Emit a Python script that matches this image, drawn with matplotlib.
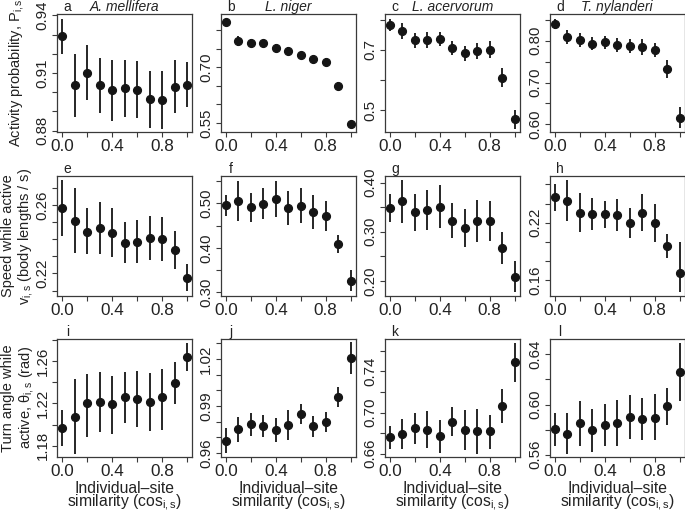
import matplotlib
matplotlib.use('Agg')
import matplotlib.pyplot as plt
from matplotlib.transforms import offset_copy

plt.rcParams['font.family'] = ['Liberation Sans', 'DejaVu Sans']
plt.rcParams['mathtext.fontset'] = 'custom'
plt.rcParams['mathtext.rm'] = 'Liberation Sans'
plt.rcParams['mathtext.it'] = 'Liberation Sans:italic'
plt.rcParams['mathtext.default'] = 'regular'

# ---------------- data ----------------
similarity = [0.0, 0.1, 0.2, 0.3, 0.4, 0.5, 0.6, 0.7, 0.8, 0.9, 1.0]
species = ['A. mellifera', 'L. niger', 'L. acervorum', 'T. nylanderi']
letters = ['a', 'b', 'c', 'd', 'e', 'f', 'g', 'h', 'i', 'j', 'k', 'l']

# Row 1: activity probability
a_mean = [0.9294, 0.9035, 0.9101, 0.9035, 0.9010, 0.9021, 0.9014, 0.8964, 0.8962, 0.9028, 0.9040]
a_lo = [0.9198, 0.8873, 0.8957, 0.8890, 0.8850, 0.8870, 0.8866, 0.8816, 0.8807, 0.8890, 0.8922]
a_hi = [0.9383, 0.9198, 0.9247, 0.9177, 0.9167, 0.9169, 0.9162, 0.9113, 0.9113, 0.9169, 0.9157]

b_mean = [0.821, 0.771, 0.765, 0.764, 0.751, 0.744, 0.733, 0.722, 0.715, 0.650, 0.547]
b_lo = [0.812, 0.758, 0.754, 0.756, 0.741, 0.733, 0.725, 0.714, 0.706, 0.640, 0.539]
b_hi = [0.830, 0.784, 0.776, 0.772, 0.761, 0.755, 0.741, 0.730, 0.724, 0.660, 0.555]

c_mean = [0.783, 0.763, 0.731, 0.732, 0.736, 0.706, 0.688, 0.697, 0.701, 0.608, 0.469]
c_lo = [0.763, 0.736, 0.706, 0.705, 0.712, 0.683, 0.662, 0.671, 0.672, 0.576, 0.437]
c_hi = [0.803, 0.790, 0.756, 0.759, 0.760, 0.729, 0.714, 0.723, 0.730, 0.640, 0.501]

d_mean = [0.840, 0.809, 0.802, 0.793, 0.796, 0.789, 0.787, 0.784, 0.777, 0.732, 0.616]
d_lo = [0.828, 0.793, 0.785, 0.777, 0.780, 0.772, 0.770, 0.765, 0.760, 0.711, 0.591]
d_hi = [0.852, 0.825, 0.819, 0.809, 0.812, 0.806, 0.804, 0.803, 0.794, 0.753, 0.641]

# Row 2: speed while active
e_mean = [0.2580, 0.2506, 0.2444, 0.2463, 0.2438, 0.2380, 0.2386, 0.2405, 0.2401, 0.2337, 0.2175]
e_lo = [0.2419, 0.2317, 0.2311, 0.2311, 0.2298, 0.2259, 0.2263, 0.2278, 0.2272, 0.2224, 0.2097]
e_hi = [0.2746, 0.2698, 0.2580, 0.2620, 0.2584, 0.2502, 0.2512, 0.2538, 0.2532, 0.2448, 0.2253]

f_mean = [0.4955, 0.5052, 0.4918, 0.4993, 0.5105, 0.4903, 0.4940, 0.4798, 0.4715, 0.4079, 0.3255]
f_lo = [0.4725, 0.4603, 0.4580, 0.4640, 0.4700, 0.4510, 0.4560, 0.4420, 0.4380, 0.3880, 0.3020]
f_hi = [0.5185, 0.5502, 0.5240, 0.5340, 0.5510, 0.5280, 0.5340, 0.5190, 0.5060, 0.4290, 0.3500]

g_mean = [0.3488, 0.3624, 0.3406, 0.3454, 0.3508, 0.3228, 0.3078, 0.3228, 0.3215, 0.2668, 0.2088]
g_lo = [0.3194, 0.3180, 0.3020, 0.3040, 0.3078, 0.2873, 0.2689, 0.2784, 0.2805, 0.2340, 0.1780]
g_hi = [0.3775, 0.4055, 0.3780, 0.3850, 0.3945, 0.3577, 0.3467, 0.3658, 0.3618, 0.3003, 0.2395]

h_mean = [0.2465, 0.2430, 0.2298, 0.2291, 0.2287, 0.2280, 0.2193, 0.2305, 0.2193, 0.1956, 0.1670]
h_lo = [0.2326, 0.2221, 0.2099, 0.2123, 0.2141, 0.2113, 0.2036, 0.2116, 0.2001, 0.1834, 0.1478]
h_hi = [0.2605, 0.2647, 0.2507, 0.2455, 0.2430, 0.2444, 0.2350, 0.2497, 0.2392, 0.2078, 0.2000]

# Row 3: turn angle while active
i_mean = [1.1972, 1.2074, 1.2209, 1.2216, 1.2194, 1.2257, 1.2244, 1.2216, 1.2257, 1.2390, 1.2642]
i_lo = [1.1796, 1.1726, 1.1884, 1.1931, 1.1916, 1.2017, 1.1979, 1.1941, 1.1953, 1.2191, 1.2510]
i_hi = [1.2143, 1.2431, 1.2478, 1.2500, 1.2459, 1.2494, 1.2510, 1.2491, 1.2522, 1.2595, 1.2769]

j_mean = [0.9677, 0.9752, 0.9783, 0.9773, 0.9747, 0.9779, 0.9849, 0.9773, 0.9800, 0.9957, 1.0203]
j_lo = [0.9599, 0.9669, 0.9709, 0.9701, 0.9669, 0.9684, 0.9783, 0.9705, 0.9737, 0.9896, 1.0101]
j_hi = [0.9762, 0.9832, 0.9858, 0.9843, 0.9826, 0.9875, 0.9911, 0.9836, 0.9860, 1.0019, 1.0305]

k_mean = [0.6763, 0.6789, 0.6851, 0.6835, 0.6770, 0.6909, 0.6828, 0.6822, 0.6819, 0.7065, 0.7486]
k_lo = [0.6644, 0.6644, 0.6692, 0.6660, 0.6611, 0.6770, 0.6640, 0.6601, 0.6650, 0.6900, 0.7292]
k_hi = [0.6867, 0.6935, 0.6997, 0.7013, 0.6925, 0.7049, 0.7023, 0.7039, 0.6974, 0.7233, 0.7677]

l_mean = [0.5803, 0.5768, 0.5853, 0.5794, 0.5834, 0.5856, 0.5901, 0.5888, 0.5896, 0.5987, 0.6262]
l_lo = [0.5666, 0.5608, 0.5666, 0.5621, 0.5666, 0.5666, 0.5728, 0.5720, 0.5720, 0.5840, 0.6029]
l_hi = [0.5936, 0.5936, 0.6027, 0.5968, 0.6003, 0.6035, 0.6075, 0.6053, 0.6080, 0.6134, 0.6494]

# y tick positions and labels ('' = unlabeled tick)
a_ticks = [0.88, 0.89, 0.90, 0.91, 0.92, 0.93, 0.94]
a_labels = ['0.88', '', '', '0.91', '', '', '0.94']
b_ticks = [0.55, 0.60, 0.65, 0.70, 0.75, 0.80]
b_labels = ['0.55', '', '', '0.70', '', '']
c_ticks = [0.5, 0.6, 0.7, 0.8]
c_labels = ['0.5', '', '0.7', '']
d_ticks = [0.60, 0.65, 0.70, 0.75, 0.80, 0.85]
d_labels = ['0.60', '', '0.70', '', '0.80', '']
e_ticks = [0.21, 0.22, 0.23, 0.24, 0.25, 0.26, 0.27]
e_labels = ['', '0.22', '', '', '', '0.26', '']
f_ticks = [0.30, 0.35, 0.40, 0.45, 0.50, 0.55]
f_labels = ['0.30', '', '0.40', '', '0.50', '']
g_ticks = [0.20, 0.25, 0.30, 0.35, 0.40]
g_labels = ['0.20', '', '0.30', '', '0.40']
h_ticks = [0.16, 0.18, 0.20, 0.22, 0.24, 0.26]
h_labels = ['0.16', '', '', '0.22', '', '']
i_ticks = [1.18, 1.20, 1.22, 1.24, 1.26, 1.28]
i_labels = ['1.18', '', '1.22', '', '1.26', '']
j_ticks = [0.96, 0.97, 0.98, 0.99, 1.00, 1.01, 1.02, 1.03]
j_labels = ['0.96', '', '', '0.99', '', '', '1.02', '']
k_ticks = [0.66, 0.68, 0.70, 0.72, 0.74, 0.76]
k_labels = ['0.66', '', '0.70', '', '0.74', '']
l_ticks = [0.56, 0.58, 0.60, 0.62, 0.64]
l_labels = ['0.56', '', '0.60', '', '0.64']

x_ticks = [0.0, 0.2, 0.4, 0.6, 0.8, 1.0]
x_labels = ['0.0', '', '0.4', '', '0.8', '']
x_axis_label = 'Individual\u2013site\nsimilarity (cos$_{i,s}$)'

ylims = [(0.8793, 0.9407), (0.526, 0.8426), (0.427, 0.819), (0.5816, 0.864),
         (0.2068, 0.2770), (0.2918, 0.5614), (0.1692, 0.4137), (0.1432, 0.2689),
         (1.1694, 1.281), (0.9576, 1.0326), (0.6569, 0.7713), (0.5581, 0.6523)]

panels = [
    (a_mean, a_lo, a_hi, a_ticks, a_labels),
    (b_mean, b_lo, b_hi, b_ticks, b_labels),
    (c_mean, c_lo, c_hi, c_ticks, c_labels),
    (d_mean, d_lo, d_hi, d_ticks, d_labels),
    (e_mean, e_lo, e_hi, e_ticks, e_labels),
    (f_mean, f_lo, f_hi, f_ticks, f_labels),
    (g_mean, g_lo, g_hi, g_ticks, g_labels),
    (h_mean, h_lo, h_hi, h_ticks, h_labels),
    (i_mean, i_lo, i_hi, i_ticks, i_labels),
    (j_mean, j_lo, j_hi, j_ticks, j_labels),
    (k_mean, k_lo, k_hi, k_ticks, k_labels),
    (l_mean, l_lo, l_hi, l_ticks, l_labels),
]

# ---------------- layout (pixels) ----------------
W, H = 685, 513
fig = plt.figure(figsize=(W / 100, H / 100), dpi=100)

col_left = [57.5, 221, 385, 550]
col_w = 134.5
row_top = [14, 176, 339]
row_bot = [132, 296, 457]

FS_X = 12.3     # x tick labels
FS_XL = 11.3    # x axis labels
FS_Y = 10.8     # rotated y tick labels
FS_YL = 10.5    # y axis labels
FS_T = 10.0     # titles and panel letters
dark = '#151515'
frame = '#3a3a3a'
txt = '#222222'

def fx(px):
    return px / W

def fy(py):
    return 1 - py / H

for idx, (m, lo, hi, yt, yl) in enumerate(panels):
    r, c = divmod(idx, 4)
    ax = fig.add_axes([fx(col_left[c]), fy(row_bot[r]), col_w / W,
                       (row_bot[r] - row_top[r]) / H])
    yerr = [[mm - ll for mm, ll in zip(m, lo)], [hh - mm for mm, hh in zip(m, hi)]]
    ax.errorbar(similarity, m, yerr=yerr, fmt='o', color=dark, ms=5.6,
                elinewidth=1.3, capsize=0, mec=dark, mfc=dark)
    ax.set_xlim(-0.04, 1.04)
    ax.set_ylim(*ylims[idx])
    ax.set_xticks(x_ticks)
    ax.set_xticklabels(x_labels)
    ax.set_yticks(yt)
    ax.set_yticklabels(yl)
    ax.tick_params(axis='both', direction='out', length=3.6, width=0.8,
                   color=frame, labelcolor=txt)
    ax.tick_params(axis='x', pad=1.5, labelsize=FS_X)
    ax.tick_params(axis='y', pad=2.0, labelsize=FS_Y)
    for lbl in ax.get_yticklabels():
        lbl.set_rotation(90)
        lbl.set_va('center')
    for sp in ax.spines.values():
        sp.set_color(frame)
        sp.set_linewidth(0.9)
    tr = offset_copy(ax.transAxes, fig=fig, x=0, y=2.3, units='points')
    ax.text(10 / col_w, 1.0, letters[idx], transform=tr, ha='center', va='baseline',
            fontsize=FS_T, color=txt)
    if r == 0:
        ax.text(0.5, 1.0, species[c], transform=tr, ha='center', va='baseline',
                fontsize=FS_T, style='italic', color=txt)
    if r == 2:
        xc = fx(col_left[c] + col_w / 2)
        fig.text(xc, fy(497), x_axis_label, ha='center', va='center',
                 multialignment='center', linespacing=0.8,
                 fontsize=FS_XL, color=txt)

# y axis labels
def rc(r):
    return fy((row_top[r] + row_bot[r]) / 2)

fig.text(fx(17), rc(0), 'Activity probability, P$_{i,s}$', rotation=90,
         ha='center', va='center', fontsize=FS_YL, color=txt)
fig.text(fx(8.5), rc(1), 'Speed while active', rotation=90,
         ha='center', va='center', fontsize=FS_YL, color=txt)
fig.text(fx(26), rc(1), 'v$_{i,s}$ (body lengths / s)', rotation=90,
         ha='center', va='center', fontsize=FS_YL, color=txt)
fig.text(fx(8.5), rc(2), 'Turn angle while', rotation=90,
         ha='center', va='center', fontsize=FS_YL, color=txt)
fig.text(fx(26.5), rc(2), 'active, \u03b8$_{i,s}$ (rad)', rotation=90,
         ha='center', va='center', fontsize=FS_YL, color=txt)

fig.savefig('out.png', dpi=100)
